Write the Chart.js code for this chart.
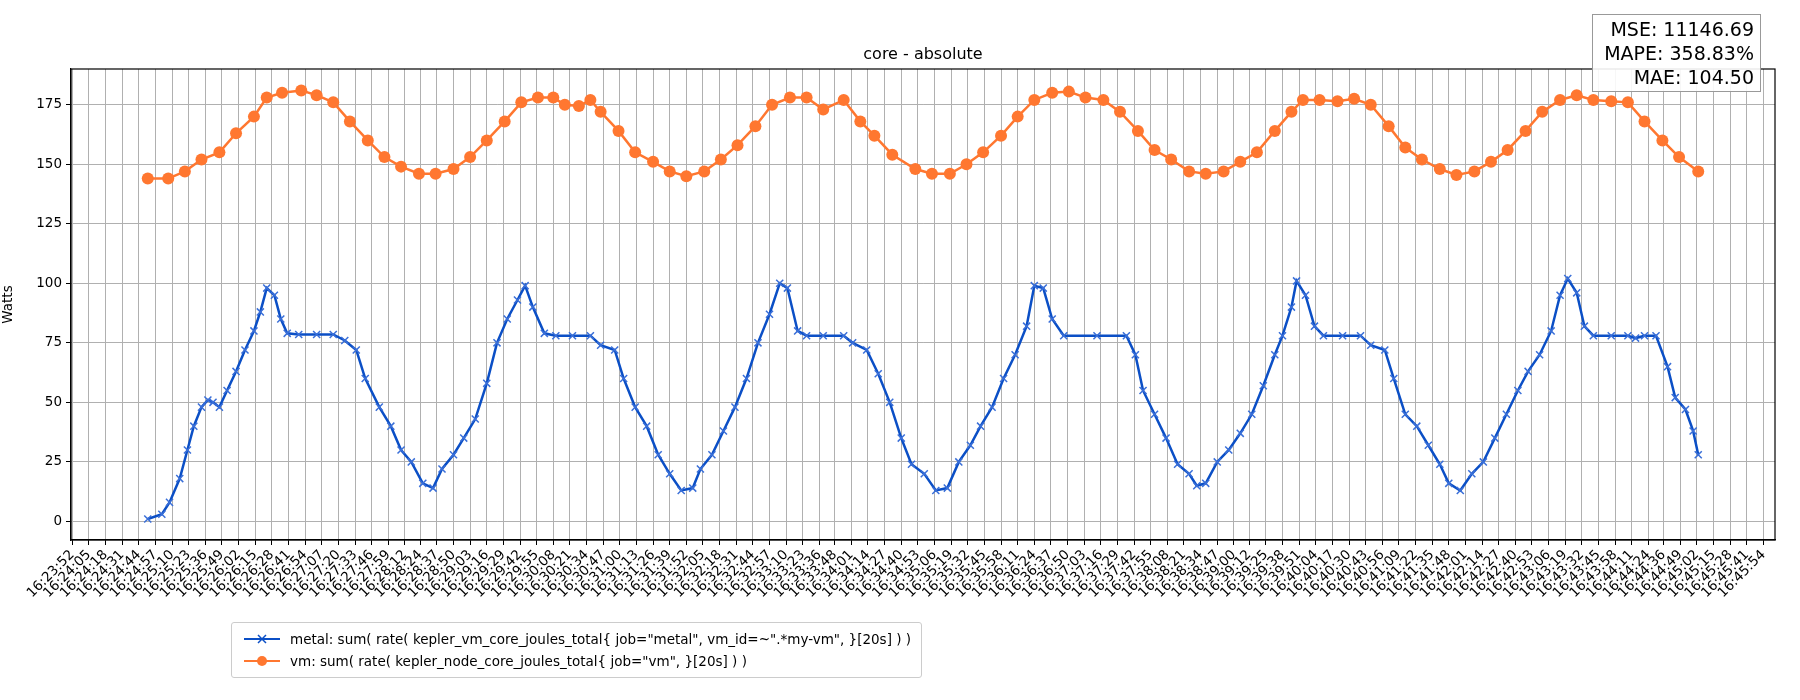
<!DOCTYPE html>
<html><head><meta charset="utf-8">
<script src="https://cdn.jsdelivr.net/npm/chart.js@4/dist/chart.umd.min.js"></script>
<style>
body{margin:0;background:#fff;font-family:"DejaVu Sans",sans-serif;}
#wrap{position:relative;width:1800px;height:700px;}
#title{position:absolute;top:44px;left:71px;width:1704px;text-align:center;font-size:16px;color:#000;}
#stats{position:absolute;left:1592px;top:14px;width:155px;padding:2px 6px;border:1px solid #999;background:rgba(255,255,255,0.9);text-align:right;font-size:19px;line-height:24px;color:#000;}
#legend{position:absolute;left:231px;top:622px;border:1px solid #ccc;border-radius:3px;padding:5px 10px;font-size:13.5px;color:#000;background:#fff;}
.li{display:flex;align-items:center;height:22px;}
.li canvas{margin-right:8px;}
</style></head><body>
<div id="wrap">
<canvas id="c" width="1800" height="700"></canvas>
<div id="title">core - absolute</div>
<div id="stats">MSE: 11146.69<br>MAPE: 358.83%<br>MAE: 104.50</div>
<div id="legend">
<div class="li"><canvas id="l1" width="40" height="14"></canvas><span>metal: sum( rate( kepler_vm_core_joules_total{ job="metal", vm_id=~".*my-vm", }[20s] ) )</span></div>
<div class="li"><canvas id="l2" width="40" height="14"></canvas><span>vm: sum( rate( kepler_node_core_joules_total{ job="vm", }[20s] ) )</span></div>
</div>
</div>
<script>
const tickLabels = ["16:23:52","16:24:05","16:24:18","16:24:31","16:24:44","16:24:57","16:25:10","16:25:23","16:25:36","16:25:49","16:26:02","16:26:15","16:26:28","16:26:41","16:26:54","16:27:07","16:27:20","16:27:33","16:27:46","16:27:59","16:28:12","16:28:24","16:28:37","16:28:50","16:29:03","16:29:16","16:29:29","16:29:42","16:29:55","16:30:08","16:30:21","16:30:34","16:30:47","16:31:00","16:31:13","16:31:26","16:31:39","16:31:52","16:32:05","16:32:18","16:32:31","16:32:44","16:32:57","16:33:10","16:33:23","16:33:36","16:33:48","16:34:01","16:34:14","16:34:27","16:34:40","16:34:53","16:35:06","16:35:19","16:35:32","16:35:45","16:35:58","16:36:11","16:36:24","16:36:37","16:36:50","16:37:03","16:37:16","16:37:29","16:37:42","16:37:55","16:38:08","16:38:21","16:38:34","16:38:47","16:39:00","16:39:12","16:39:25","16:39:38","16:39:51","16:40:04","16:40:17","16:40:30","16:40:43","16:40:56","16:41:09","16:41:22","16:41:35","16:41:48","16:42:01","16:42:14","16:42:27","16:42:40","16:42:53","16:43:06","16:43:19","16:43:32","16:43:45","16:43:58","16:44:11","16:44:24","16:44:36","16:44:49","16:45:02","16:45:15","16:45:28","16:45:41","16:45:54"];
// seconds since 16:23:52
const metalTimes = [59,70,76,84,90,95,101,106,110,115,121,128,135,142,147,152,158,163,168,177,191,204,213,222,229,240,249,257,265,274,282,289,298,306,315,324,332,340,348,354,360,369,378,391,405,413,424,431,440,449,458,467,476,485,491,500,509,518,527,536,545,553,559,567,574,587,603,610,621,630,639,648,656,666,675,684,693,702,710,719,728,737,746,752,759,766,775,801,824,831,837,846,855,864,873,879,886,895,904,913,922,931,940,946,953,957,964,971,978,993,1007,1015,1026,1033,1042,1051,1060,1069,1076,1085,1094,1103,1112,1121,1130,1138,1147,1156,1163,1169,1176,1182,1189,1203,1216,1222,1229,1238,1247,1253,1261,1267,1271];
const metalValues = [1,3,8,18,30,40,48,51,50,48,55,63,72,80,88,98,95,85,79,78.5,78.5,78.5,76,72,60,48,40,30,25,16,14,22,28,35,43,58,75,85,93,99,90,79,78,78,78,74,72,60,48,40,28,20,13,14,22,28,38,48,60,75,87,100,98,80,78,78,78,75,72,62,50,35,24,20,13,14,25,32,40,48,60,70,82,99,98,85,78,78,78,70,55,45,35,24,20,15,16,25,30,37,45,57,70,78,90,101,95,82,78,78,78,74,72,60,45,40,32,24,16,13,20,25,35,45,55,63,70,80,95,102,96,82,78,78,78,77,78,78,65,52,47,38,28,25];
const vmTimes = [59,75,88,101,115,128,142,152,164,179,191,204,217,231,244,257,271,284,298,311,324,338,351,364,376,385,396,405,413,427,440,454,467,480,494,507,520,534,547,561,574,587,603,616,627,641,659,672,686,699,712,726,739,752,766,779,792,806,819,833,846,859,873,886,900,913,926,940,953,962,975,989,1002,1015,1029,1042,1055,1069,1082,1096,1109,1122,1136,1149,1163,1176,1189,1203,1216,1229,1243,1256,1271];
const vmValues = [144,144,147,152,155,163,170,178,180,181,179,176,168,160,153,149,146,146,148,153,160,168,176,178,178,175,174.5,177,172,164,155,151,147,145,147,152,158,166,175,178,178,173,177,168,162,154,148,146,146,150,155,162,170,177,180,180.5,178,177,172,164,156,152,147,146,147,151,155,164,172,177,177,176.5,177.5,175,166,157,152,148,145.5,147,151,156,164,172,177,179,177,176.5,176,168,160,153,147];
const yTicks = [0,25,50,75,100,125,150,175];

const toSec = s => { const [h,m,x] = s.split(':').map(Number); return h*3600+m*60+x; };
const t0 = toSec(tickLabels[0]);
const tickSecs = tickLabels.map(l => toSec(l) - t0);
const labelBySec = {}; tickSecs.forEach((s,i)=>labelBySec[s]=tickLabels[i]);

const BLUE = '#0b4fc6', ORANGE = '#ff7730';
const grid = '#b0b0b0';
new Chart(document.getElementById('c'), {
  type: 'line',
  data: { datasets: [
    { label:'metal', data: metalTimes.map((t,i)=>({x:t,y:metalValues[i]})), borderColor:BLUE, backgroundColor:BLUE, borderWidth:2.5, pointStyle:'crossRot', pointRadius:5, pointBorderWidth:1.5, pointBorderColor:'#3a6fd8', tension:0 },
    { label:'vm', data: vmTimes.map((t,i)=>({x:t,y:vmValues[i]})), borderColor:ORANGE, backgroundColor:ORANGE, borderWidth:2.5, pointStyle:'circle', pointRadius:6, pointBorderWidth:0, tension:0 }
  ]},
  options: {
    responsive:false, animation:false, devicePixelRatio:1,
    layout:{ padding:{ top:69, right:25, left:0, bottom:0 } },
    plugins:{ legend:{display:false}, tooltip:{enabled:false} },
    scales:{
      x:{ type:'linear', min:-1, max:1331,
        afterBuildTicks: s => { s.ticks = tickSecs.map(v=>({value:v})); },
        afterFit: s => { s.height = 160; },
        ticks:{ autoSkip:false, minRotation:45, maxRotation:45, color:'#000', font:{family:'DejaVu Sans', size:13.5}, padding:2, callback: v => labelBySec[v] },
        grid:{ color:grid, lineWidth:1, tickLength:5, tickColor:'#000' },
        border:{ color:'#000', width:1.2 } },
      y:{ min:-7.8, max:190,
        afterBuildTicks: s => { s.ticks = yTicks.map(v=>({value:v})); },
        afterFit: s => { s.width = 71; },
        title:{ display:true, text:'Watts', color:'#000', font:{family:'DejaVu Sans', size:13.5}, padding:{top:0,bottom:4} },
        ticks:{ color:'#000', font:{family:'DejaVu Sans', size:13.5}, padding:4 },
        grid:{ color:grid, lineWidth:1, tickLength:5, tickColor:'#000' },
        border:{ color:'#000', width:1.2 } }
    }
  },
  plugins:[{ id:'frame', afterDraw(c){ const a=c.chartArea, g=c.ctx; g.save(); g.strokeStyle='#000'; g.lineWidth=1.2; g.strokeRect(a.left,a.top,a.right-a.left,a.bottom-a.top); g.restore(); } }]
});
function leg(id,color,marker){
  const g=document.getElementById(id).getContext('2d');
  g.strokeStyle=color; g.lineWidth=2; g.beginPath(); g.moveTo(2,7); g.lineTo(38,7); g.stroke();
  if(marker==='x'){ g.lineWidth=1.5; g.beginPath(); g.moveTo(16,3); g.lineTo(24,11); g.moveTo(24,3); g.lineTo(16,11); g.stroke(); }
  else { g.fillStyle=color; g.beginPath(); g.arc(20,7,5,0,Math.PI*2); g.fill(); }
}
leg('l1',BLUE,'x'); leg('l2',ORANGE,'o');
</script>
</body></html>
